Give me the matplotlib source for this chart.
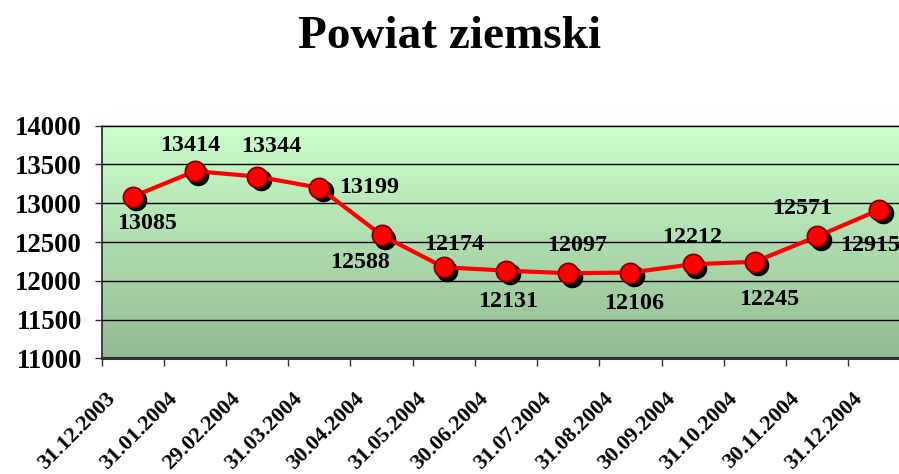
import numpy as np
import matplotlib
matplotlib.use("Agg")
import matplotlib.pyplot as plt
from matplotlib.colors import LinearSegmentedColormap
from matplotlib.transforms import offset_copy

# dane
daty = ['31.12.2003', '31.01.2004', '29.02.2004', '31.03.2004', '30.04.2004',
        '31.05.2004', '30.06.2004', '31.07.2004', '31.08.2004', '30.09.2004',
        '31.10.2004', '30.11.2004', '31.12.2004']
wartosci = [13085, 13414, 13344, 13199, 12588, 12174, 12131,
            12097, 12106, 12212, 12245, 12571, 12915]
y_ticks = [11000, 11500, 12000, 12500, 13000, 13500, 14000]

# przesuniecia etykiet danych (px wzgledem punktu, y w gore)
etykiety_dx = [14, -5, 14, 50, -22, 10, 2, 9, 4, 0, 14, -15, -9]
etykiety_dy = [-27, 26, 30, 0, -27, 23, -31, 28, -31, 27, -38, 28, -36]

plt.rcParams['font.family'] = ['Liberation Serif', 'DejaVu Serif']
plt.rcParams['font.weight'] = 'bold'

fig = plt.figure(figsize=(8.99, 4.74), dpi=100)
ax = fig.add_axes([0.1131, 0.2441, 0.8995, 0.4907])

n = len(wartosci)
x = np.arange(n)
ax.set_xlim(-0.5, n - 0.5)
ax.set_ylim(11000, 14000)

# tlo z gradientem
cmap = LinearSegmentedColormap.from_list('zielony', ['#93bb93', '#ccffcc'])
grad = np.linspace(0, 1, 256).reshape(-1, 1)
ax.imshow(grad, cmap=cmap, aspect='auto', origin='lower',
          extent=(-0.5, n - 0.5, 11000, 14000), zorder=0)

ax.set_yticks(y_ticks)
ax.yaxis.grid(True, color='black', linewidth=1.0, zorder=1)
ax.set_axisbelow(False)
ax.tick_params(axis='y', direction='out', length=5, width=1, pad=9,
               labelsize=19.3, color='#333333')
for lbl in ax.get_yticklabels():
    lbl.set_fontweight('bold')

# osie x: znaczniki miedzy kategoriami
ax.set_xticks(np.arange(n + 1) - 0.5)
ax.set_xticklabels([])
ax.tick_params(axis='x', direction='out', length=5.5, width=1, color='#333333')
for i, d in enumerate(daty):
    ax.annotate(d, xy=(x[i], 0), xycoords=('data', 'axes fraction'),
                xytext=(-9.5, -22), textcoords='offset points',
                rotation=45, ha='right', va='top', fontsize=16,
                fontweight='bold', annotation_clip=False)

for s in ['left', 'bottom']:
    ax.spines[s].set_color('#333333')
ax.spines['left'].set_linewidth(1.3)
ax.spines['bottom'].set_linewidth(2.2)
ax.spines['top'].set_color('#999999')
ax.spines['top'].set_linewidth(1.3)
ax.spines['right'].set_visible(False)

# cien pod punktami
cien = offset_copy(ax.transData, fig=fig, x=3.5, y=-3.5, units='dots')
ax.plot(x, wartosci, linestyle='none', marker='o', markersize=14.5,
        color='black', transform=cien, zorder=3, clip_on=False)
ax.plot(x, wartosci, color='#ff0000', linewidth=3, zorder=4, clip_on=False)
ax.plot(x, wartosci, linestyle='none', marker='o', markersize=14.5,
        markerfacecolor='#ff0000', markeredgecolor='#800000',
        markeredgewidth=1.3, zorder=5, clip_on=False)

for i, v in enumerate(wartosci):
    ax.annotate(str(v), xy=(x[i], v),
                xytext=(etykiety_dx[i] * 0.72, etykiety_dy[i] * 0.72),
                textcoords='offset points', ha='center', va='center',
                fontsize=17.3, fontweight='bold', zorder=6)

fig.text(0.5, 1 - 48 / 474, 'Powiat ziemski', ha='center', va='baseline',
         fontsize=34, fontweight='bold')

fig.savefig('out.png', dpi=100)
